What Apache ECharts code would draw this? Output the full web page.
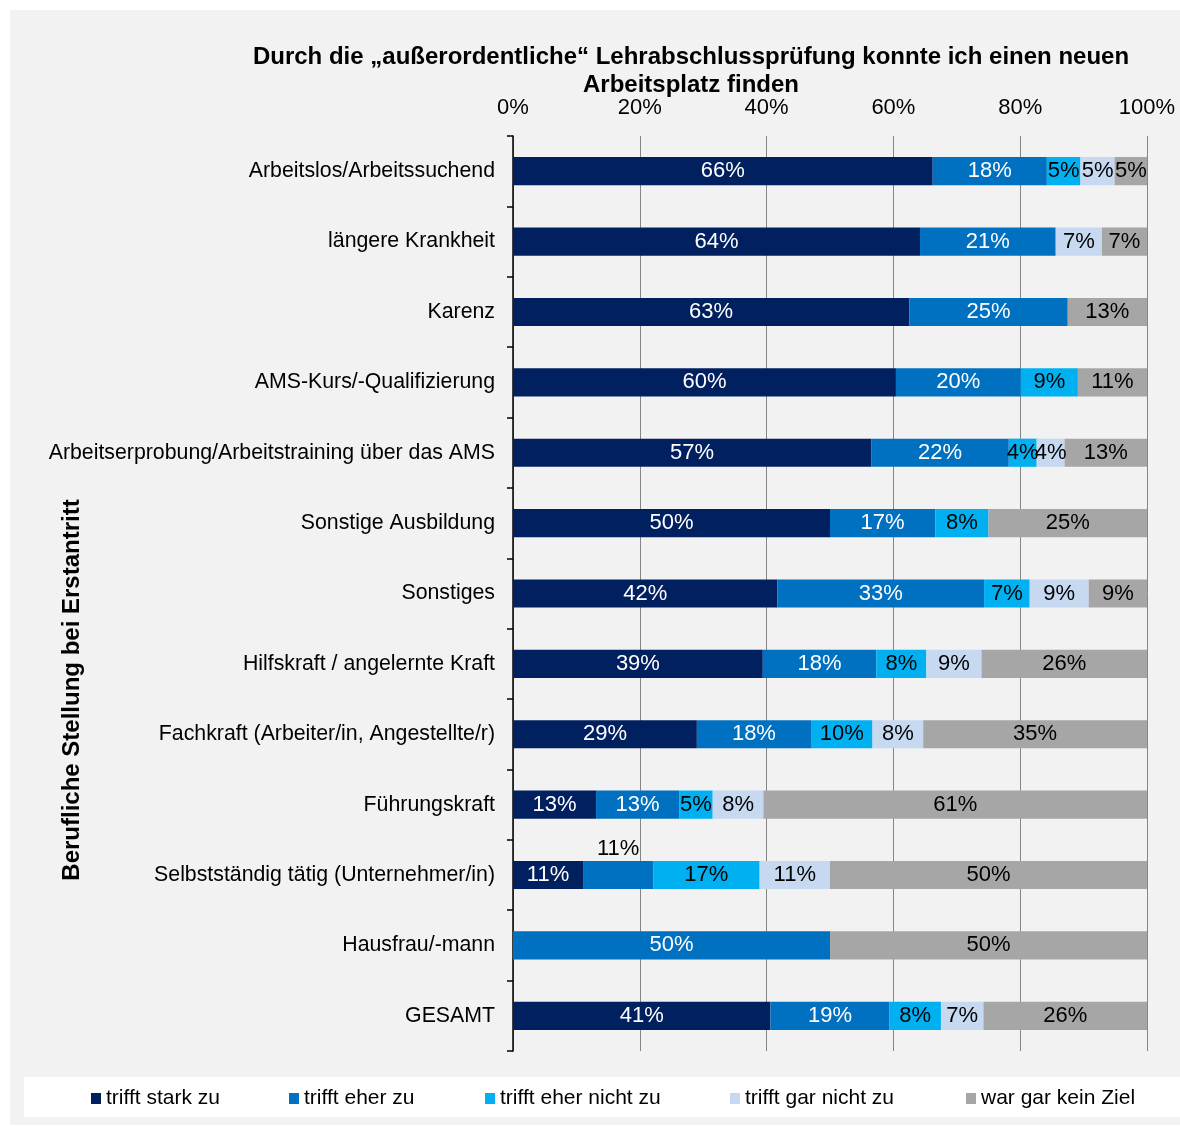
<!DOCTYPE html>
<html>
<head>
<meta charset="utf-8">
<script src="https://cdn.jsdelivr.net/npm/echarts@6/dist/echarts.min.js"></script>
<style>
  html, body { margin: 0; padding: 0; background: #fff; }
  #panel { position: absolute; left: 10px; top: 10px; width: 1170px; height: 1115px; background: #f2f2f2; }
  #legbox { position: absolute; left: 24px; top: 1077px; width: 1156px; height: 40px; background: #fff; }
  #chart { position: absolute; left: 0; top: 0; width: 1180px; height: 1126px; }
</style>
</head>
<body>
<div id="panel"></div>
<div id="legbox"></div>
<div id="chart"></div>
<script>
var categories = [
  'Arbeitslos/Arbeitssuchend',
  'längere Krankheit',
  'Karenz',
  'AMS-Kurs/-Qualifizierung',
  'Arbeitserprobung/Arbeitstraining über das AMS',
  'Sonstige Ausbildung',
  'Sonstiges',
  'Hilfskraft / angelernte Kraft',
  'Fachkraft (Arbeiter/in, Angestellte/r)',
  'Führungskraft',
  'Selbstständig tätig (Unternehmer/in)',
  'Hausfrau/-mann',
  'GESAMT'
];
var seriesNames = ['trifft stark zu', 'trifft eher zu', 'trifft eher nicht zu', 'trifft gar nicht zu', 'war gar kein Ziel'];
var starkZu   = [66.2, 64.2, 62.5, 60.4, 56.5, 50.0, 41.7, 39.4, 29.0, 13.1, 11.05, 0, 40.6];
var eherZu    = [18.0, 21.4, 25.0, 19.7, 21.7, 16.6, 32.6, 17.9, 18.0, 13.1, 11.05, 50.0, 18.8];
var eherNicht = [5.3, 0, 0, 9.0, 4.4, 8.4, 7.2, 7.9, 9.7, 5.3, 16.8, 0, 8.1];
var garNicht  = [5.4, 7.3, 0, 0, 4.4, 0, 9.3, 8.7, 8.0, 8.0, 11.1, 0, 6.7];
var keinZiel  = [5.1, 7.1, 12.5, 10.9, 13.0, 25.0, 9.2, 26.1, 35.3, 60.5, 50.0, 50.0, 25.8];
var xTicks = [0, 20, 40, 60, 80, 100];

var colors = ['#002060', '#0070c0', '#00b0f0', '#c6d9f1', '#a6a6a6'];
var labelColors = ['#fff', '#fff', '#000', '#000', '#000'];
var allData = [starkZu, eherZu, eherNicht, garNicht, keinZiel];
var FONT = '"Liberation Sans", Arial, sans-serif';

var myChart = echarts.init(document.getElementById('chart'));

var series = allData.map(function (arr, si) {
  return {
    name: seriesNames[si],
    type: 'bar',
    stack: 'total',
    barWidth: '40%',
    itemStyle: { color: colors[si] },
    label: {
      show: true,
      position: 'inside',
      color: labelColors[si],
      fontSize: 22,
      fontFamily: FONT,
      formatter: function (p) {
        return p.value > 0 ? Math.round(p.value) + '%' : '';
      }
    },
    data: arr.map(function (v, i) {
      // Excel put this one label above the bar
      if (si === 1 && i === 10) {
        return { value: v, label: { position: 'top', color: '#000', distance: 1 } };
      }
      return v;
    })
  };
});

var legendLefts = [86, 284, 480, 725, 961];
var legends = seriesNames.map(function (n, i) {
  return {
    data: [n],
    left: legendLefts[i],
    top: 1083,
    itemWidth: 10,
    itemHeight: 11,
    icon: 'rect',
    textStyle: { fontSize: 21, color: '#000', fontFamily: FONT }
  };
});

var option = {
  animation: false,
  color: colors,
  textStyle: { fontFamily: FONT },
  title: {
    text: 'Durch die „außerordentliche“ Lehrabschlussprüfung konnte ich einen neuen\nArbeitsplatz finden',
    left: 686,
    top: 38,
    textAlign: 'center',
    textStyle: { fontSize: 24, fontWeight: 'bold', color: '#000', lineHeight: 28, fontFamily: FONT }
  },
  legend: legends,
  grid: { left: 513, right: 33, top: 136, bottom: 75, containLabel: false },
  xAxis: {
    type: 'value',
    position: 'top',
    min: 0,
    max: 100,
    interval: 20,
    axisLine: { show: false },
    axisTick: { show: false },
    axisLabel: {
      margin: 17,
      fontSize: 22,
      color: '#000',
      fontFamily: FONT,
      formatter: function (v) { return xTicks.indexOf(v) >= 0 ? v + '%' : ''; }
    },
    splitLine: { lineStyle: { color: '#868686', width: 1 } }
  },
  yAxis: {
    type: 'category',
    inverse: true,
    data: categories,
    axisLine: { lineStyle: { color: '#000', width: 1.5 } },
    axisTick: { show: true, length: 6, lineStyle: { color: '#000', width: 1.5 } },
    axisLabel: { margin: 18, fontSize: 21.3, color: '#000', fontFamily: FONT }
  },
  graphic: [{
    type: 'text',
    x: 72,
    y: 690,
    rotation: Math.PI / 2,
    style: {
      text: 'Berufliche Stellung bei Erstantritt',
      fontSize: 24,
      fontWeight: 'bold',
      fontFamily: FONT,
      fill: '#000',
      textAlign: 'center',
      textVerticalAlign: 'middle'
    }
  }],
  series: series
};

myChart.setOption(option);
</script>
</body>
</html>
